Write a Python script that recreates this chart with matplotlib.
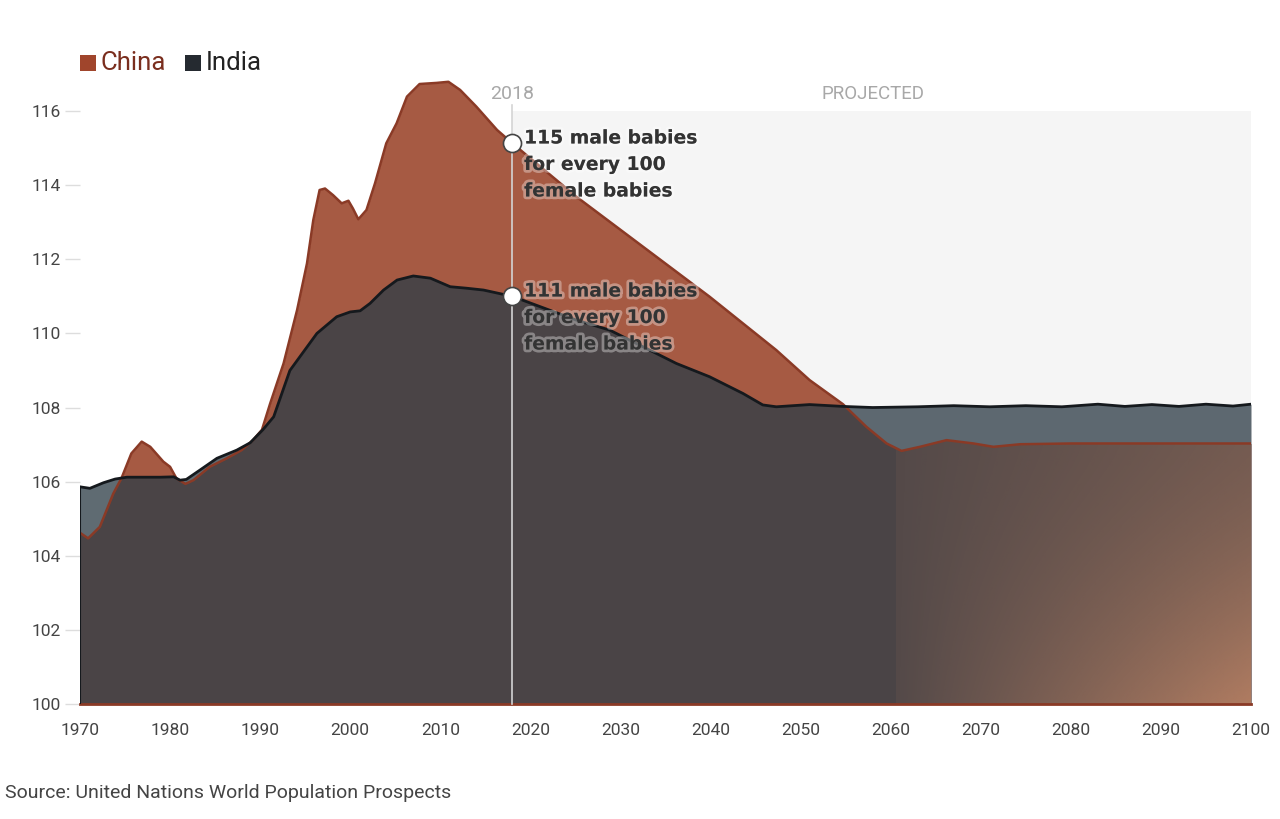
import matplotlib
matplotlib.use("Agg")
import matplotlib.pyplot as plt
import matplotlib.patheffects as pe
from matplotlib.patches import Rectangle
import numpy as np

# sex ratio at birth (male per 100 female)
china_years = [1970, 1970.9, 1972.2, 1973.7, 1974.6, 1975.7, 1976.85, 1977.8, 1979.25, 1980,
               1980.7, 1981.7, 1982.6, 1984.4, 1986.3, 1987.95, 1989.2, 1990.2, 1991.1, 1992.6,
               1994.1, 1995.2, 1995.9, 1996.6, 1997.2, 1998.1, 1999.05, 1999.8, 2000.3, 2000.9,
               2001.8, 2002.75, 2004.0, 2005.15, 2006.3, 2007.7, 2009.6, 2010.9, 2012.2, 2014.0,
               2016.3, 2018, 2025.1, 2032.5, 2039.9, 2047.3, 2051.0, 2054.7, 2057.3, 2059.55,
               2061.2, 2063.25, 2066.2, 2069.2, 2071.4, 2074.4, 2080, 2090, 2100]
china_vals = [104.62, 104.47, 104.78, 105.68, 106.09, 106.76, 107.08, 106.94, 106.54, 106.4,
              106.09, 105.94, 106.04, 106.4, 106.63, 106.85, 107.12, 107.4, 108.1, 109.19,
              110.63, 111.89, 113.06, 113.87, 113.91, 113.73, 113.51, 113.58, 113.37, 113.08,
              113.33, 114.05, 115.13, 115.67, 116.39, 116.73, 116.76, 116.79, 116.57, 116.12,
              115.49, 115.13, 113.69, 112.34, 110.99, 109.55, 108.74, 108.09, 107.48, 107.03,
              106.83, 106.94, 107.12, 107.03, 106.94, 107.01, 107.03, 107.03, 107.03]

india_years = [1970, 1971.1, 1972.6, 1973.9, 1975.2, 1978.9, 1980.4, 1981.1, 1981.8, 1983.3,
               1985.2, 1987.4, 1988.9, 1990.3, 1991.5, 1993.3, 1996.3, 1998.5, 2000, 2001.1,
               2002.2, 2003.7, 2005.2, 2007.0, 2008.9, 2011.1, 2012.9, 2014.8, 2018, 2025.1,
               2028.8, 2032.5, 2036.2, 2039.9, 2043.6, 2045.8, 2047.3, 2051, 2054.7, 2058,
               2063, 2067, 2071, 2075, 2079, 2083, 2086, 2089, 2092, 2095, 2098, 2100]
india_vals = [105.86, 105.82, 105.97, 106.07, 106.12, 106.12, 106.13, 106.04, 106.06, 106.31,
              106.63, 106.85, 107.05, 107.4, 107.75, 109.0, 110.0, 110.45, 110.58, 110.61,
              110.81, 111.17, 111.44, 111.55, 111.49, 111.26, 111.22, 111.17, 111.0, 110.36,
              110.09, 109.64, 109.19, 108.83, 108.38, 108.07, 108.02, 108.08, 108.03, 108.0,
              108.02, 108.05, 108.02, 108.05, 108.02, 108.09, 108.03, 108.08, 108.03, 108.09,
              108.04, 108.09]

now_year = 2018
china_now = 115.13
india_now = 111.0

plt.rcParams['font.family'] = ['Roboto', 'DejaVu Sans']

fig = plt.figure(figsize=(12.8, 8.19), dpi=100)
ax = fig.add_axes([80/1280, 1 - 704/819, (1251-80)/1280, (704-74)/819])
ax.set_xlim(1970, 2100)
ax.set_ylim(100, 117)

# projected background
ax.add_patch(Rectangle((now_year, 100), 2100 - now_year, 16, facecolor='#f5f5f5',
                       edgecolor='none', zorder=0))

china_fill = ax.fill_between(china_years, 100, china_vals, color='#a65a43', lw=0, zorder=1)
ax.fill_between(india_years, 100, india_vals, color='#2f3e48', alpha=0.77, lw=0, zorder=2)

# warm tint in the lower right of the overlap, as in the original picture
gx, gy = np.meshgrid(np.linspace(0, 1, 200), np.linspace(0, 1, 100))  # gy=1 at bottom row
tint = np.zeros((100, 200, 4))
tint[..., 0] = 205/255
tint[..., 1] = 140/255
tint[..., 2] = 105/255
tint[..., 3] = 0.08 + 0.25*gx + 0.45*gx*gy**1.5
im = ax.imshow(tint, extent=[2060.6, 2100, 100, 107.2], aspect='auto', zorder=2.5,
               interpolation='bilinear')
im.set_clip_path(china_fill.get_paths()[0], transform=ax.transData)

ax.plot(china_years, china_vals, color='#8a3a26', lw=1.8, zorder=3)
ax.plot(india_years, india_vals, color='#15191d', lw=2, zorder=4)
ax.plot([1970, 2100], [100, 100], color='#8a3a26', lw=2, zorder=3, clip_on=False)
ax.plot([1970, 1970], [100, india_vals[0]], color='#15191d', lw=1.5, zorder=4)

ax.plot([now_year, now_year], [100, 116.17], color='#d4d4d4', lw=1.2, zorder=5, clip_on=False)
ax.plot([now_year, now_year], [china_now, india_now], 'o', ms=13, mfc='white', mec='#444444',
        mew=1.2, zorder=6, clip_on=False)

ax.text(now_year, 116.46, '2018', ha='center', va='center', fontsize=14, color='#a8a8a8')
ax.text(2058, 116.46, 'PROJECTED', ha='center', va='center', fontsize=13.5, color='#a8a8a8')

halo = [pe.withStroke(linewidth=4, foreground=(1, 1, 1, 0.35))]
for top, label in [(115.53, '115'), (111.4, '111')]:
    ax.text(2019.3, top, label + ' male babies\nfor every 100\nfemale babies', ha='left',
            va='top', fontsize=13.5, fontweight='bold', color='#333333', linespacing=1.5,
            zorder=7, family=['DejaVu Sans'], path_effects=halo)

for s in ax.spines.values():
    s.set_visible(False)
ax.set_xticks(range(1970, 2101, 10))
ax.set_yticks(range(100, 117, 2))
ax.tick_params(axis='x', length=0, pad=14, labelsize=12.5, labelcolor='#444444')
ax.tick_params(axis='y', length=11, width=1, color='#dddddd', pad=3, labelsize=12.5,
               labelcolor='#444444')

# legend
fig.patches.append(Rectangle((80/1280, 1 - 71/819), 16/1280, 16/819, transform=fig.transFigure,
                             facecolor='#a0452c', edgecolor='none'))
fig.text(101/1280, 1 - 63/819, 'China', ha='left', va='center', fontsize=18.5, color='#7a2e1e')
fig.patches.append(Rectangle((185/1280, 1 - 71/819), 16/1280, 16/819, transform=fig.transFigure,
                             facecolor='#252a30', edgecolor='none'))
fig.text(206/1280, 1 - 63/819, 'India', ha='left', va='center', fontsize=18.5, color='#222222')

fig.text(5/1280, 1 - 793/819, 'Source: United Nations World Population Prospects', ha='left',
         va='center', fontsize=14, color='#444444')

fig.savefig('out.png', dpi=100)
